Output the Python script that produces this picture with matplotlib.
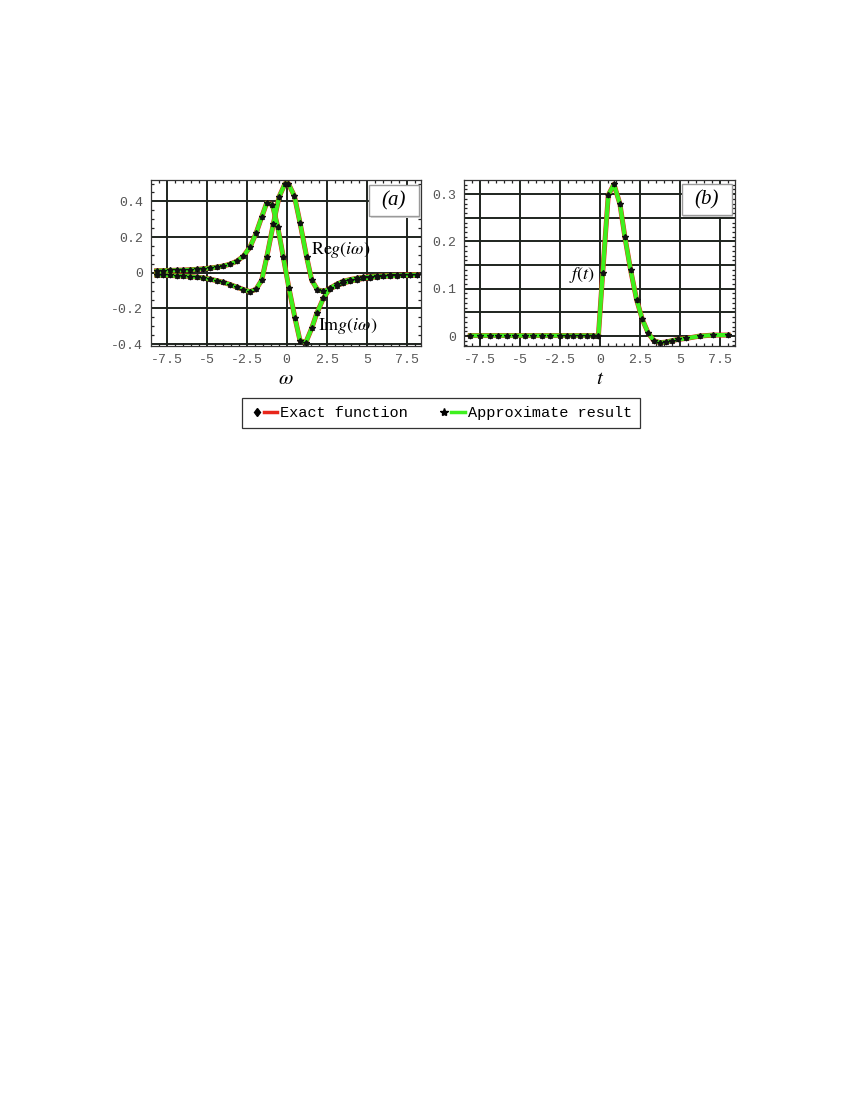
import matplotlib
matplotlib.use("Agg")
import matplotlib.pyplot as plt
from matplotlib.lines import Line2D
from matplotlib.patches import Rectangle
from matplotlib.legend_handler import HandlerTuple
from matplotlib.ticker import MultipleLocator

plt.rcParams['mathtext.fontset'] = 'stix'

# panel (a): real part of g(iw)
omega_re = [-8.13, -7.71, -7.29, -6.88, -6.46, -6.04, -5.63, -5.21, -4.79, -4.38, -3.96,
            -3.54, -3.13, -2.71, -2.29, -1.92, -1.56, -1.25, -0.84, -0.48, -0.1,
            0.1, 0.48, 0.84, 1.25, 1.56, 1.92, 2.29, 2.71, 3.13, 3.54, 3.96, 4.38,
            4.79, 5.21, 5.63, 6.04, 6.46, 6.88, 7.29, 7.71, 8.13]
re_g = [-0.013, -0.014, -0.015, -0.017, -0.018, -0.021, -0.024, -0.029, -0.036, -0.044, -0.054,
        -0.066, -0.080, -0.094, -0.106, -0.093, -0.041, 0.086, 0.272, 0.425, 0.500,
        0.500, 0.430, 0.276, 0.086, -0.041, -0.095, -0.104, -0.090, -0.072, -0.058, -0.047, -0.039,
        -0.032, -0.027, -0.023, -0.020, -0.018, -0.016, -0.015, -0.014, -0.013]

# panel (a): imaginary part of g(iw)
omega_im = [-8.13, -7.71, -7.29, -6.88, -6.46, -6.04, -5.63, -5.21, -4.79, -4.38, -3.96,
            -3.54, -3.13, -2.71, -2.29, -1.92, -1.56, -1.25, -0.9, -0.56, -0.21,
            0.14, 0.52, 0.83, 1.19, 1.56, 1.88, 2.29, 2.7, 3.13, 3.54, 3.96, 4.38,
            4.79, 5.21, 5.63, 6.04, 6.46, 6.88, 7.29, 7.71, 8.13]
im_g = [0.011, 0.012, 0.013, 0.014, 0.015, 0.017, 0.019, 0.022, 0.026, 0.031, 0.038,
        0.048, 0.064, 0.092, 0.145, 0.220, 0.313, 0.391, 0.382, 0.257, 0.086,
        -0.087, -0.255, -0.380, -0.391, -0.311, -0.227, -0.143, -0.087, -0.064, -0.048, -0.038, -0.031,
        -0.026, -0.022, -0.019, -0.017, -0.015, -0.014, -0.013, -0.012, -0.011]

# panel (b): f(t)
t_pts = [-8.1, -7.5, -6.9, -6.35, -5.8, -5.3, -4.7, -4.2, -3.6, -3.1, -2.5, -2.08,
         -1.67, -1.25, -0.83, -0.42, -0.1, 0.17, 0.52, 0.875, 1.25, 1.56, 1.92,
         2.29, 2.65, 3.02, 3.375, 3.75, 4.125, 4.48, 4.9, 5.4, 6.25, 7.08, 8.02]
f_t = [0.001, 0.001, 0.001, 0.001, 0.001, 0.001, 0.001, 0.001, 0.001, 0.001, 0.001, 0.001,
       0.001, 0.001, 0.001, 0.001, -0.001, 0.133, 0.298, 0.321, 0.279, 0.209, 0.139,
       0.077, 0.035, 0.006, -0.010, -0.014, -0.013, -0.010, -0.007, -0.005, 0.000, 0.002, 0.002]

xticks = [-7.5, -5, -2.5, 0, 2.5, 5, 7.5]
xtick_labels = ['-7.5', '-5', '-2.5', '0', '2.5', '5', '7.5']
a_yticks = [-0.4, -0.2, 0, 0.2, 0.4]
a_ylabels = ['-0.4', '-0.2', '0', '0.2', '0.4']
b_yticks = [0, 0.05, 0.1, 0.15, 0.2, 0.25, 0.3]
b_ylabels = ['0', '', '0.1', '', '0.2', '', '0.3']

mono = 'Liberation Mono'
serif = 'Liberation Serif'
grid_col = '#1e241e'


def style_axes(ax, yticks, ylabels, yminor):
    ax.set_xticks(xticks)
    ax.set_xticklabels(xtick_labels, family=mono, fontsize=9.5, color='#555555')
    ax.set_yticks(yticks)
    ax.set_yticklabels(ylabels, family=mono, fontsize=9.5, color='#555555')
    ax.xaxis.set_minor_locator(MultipleLocator(0.5))
    ax.yaxis.set_minor_locator(MultipleLocator(yminor))
    ax.tick_params(which='both', direction='in', top=True, right=True)
    ax.tick_params(which='major', length=0, pad=6)
    ax.tick_params(which='minor', length=2.5, width=0.9, color='#222222')
    ax.grid(True, which='major', color=grid_col, lw=1.4)
    ax.set_axisbelow(True)
    for sp in ax.spines.values():
        sp.set_linewidth(0.9)
        sp.set_color('#333333')


def draw_curve(ax, x, y):
    ax.plot(x, y, color='#e8261a', lw=3.6, zorder=3)
    ax.plot(x, y, color='#3ef01e', lw=3.0, zorder=4)
    ax.plot(x, y, ls='none', marker='d', ms=2.5, color='black', zorder=5)
    ax.plot(x, y, ls='none', marker='*', ms=4.2, color='#111111', zorder=6)


def label_box(ax, x0, y0, x1, y1, txt):
    ax.add_patch(Rectangle((x0 + 0.006, y0 - 0.012), x1 - x0, y1 - y0, transform=ax.transAxes,
                           fc='#d8d8d8', ec='none', zorder=7))
    ax.add_patch(Rectangle((x0, y0), x1 - x0, y1 - y0, transform=ax.transAxes,
                           fc='white', ec='#9a9a9a', lw=1.0, zorder=8))
    ax.text((x0 + x1) / 2, (y0 + y1) / 2, txt, transform=ax.transAxes, ha='center',
            va='center', fontsize=15, family=serif, style='italic', zorder=9)


fig = plt.figure(figsize=(8.5, 11), dpi=100)

ax1 = fig.add_axes([0.1782, 0.6855, 0.3171, 0.1506])
draw_curve(ax1, omega_re, re_g)
draw_curve(ax1, omega_im, im_g)
ax1.set_xlim(-8.45, 8.39)
ax1.set_ylim(-0.41, 0.518)
style_axes(ax1, a_yticks, a_ylabels, 0.05)
ax1.set_xlabel(r'$\omega$', fontsize=15, labelpad=1)
ax1.text(3.4, 0.127, r'$\mathrm{Re}g(i\omega)$', fontsize=13, ha='center', va='center', zorder=9)
ax1.text(3.8, -0.298, r'$\mathrm{Im}g(i\omega)$', fontsize=13, ha='center', va='center', zorder=9)
label_box(ax1, 0.807, 0.785, 0.9926, 0.972, '(a)')

ax2 = fig.add_axes([0.5462, 0.6855, 0.3185, 0.1506])
draw_curve(ax2, t_pts, f_t)
ax2.set_xlim(-8.48, 8.44)
ax2.set_ylim(-0.021, 0.3294)
style_axes(ax2, b_yticks, b_ylabels, 0.01)
ax2.set_xlabel(r'$t$', fontsize=15, labelpad=1)
ax2.text(-1.12, 0.13, r'$f(t)$', fontsize=13, ha='center', va='center', zorder=9)
label_box(ax2, 0.803, 0.791, 0.988, 0.978, '(b)')

# legend
h_exact = (Line2D([], [], ls='none', marker='d', ms=4.5, color='black'),
           Line2D([], [], color='#e8261a', lw=2.5))
h_appr = (Line2D([], [], ls='none', marker='*', ms=6, color='black'),
          Line2D([], [], color='#3ef01e', lw=2.5))
leg = fig.legend([h_exact, h_appr], ['Exact function', 'Approximate result'],
                 handler_map={tuple: HandlerTuple(ndivide=None, pad=0)},
                 loc='center', bbox_to_anchor=(441 / 850, 1 - 413 / 1100), ncol=2,
                 prop={'family': mono, 'size': 11}, frameon=True, fancybox=False,
                 handlelength=1.8, handletextpad=0.2, columnspacing=1.9, borderpad=0.5)
leg.get_frame().set_edgecolor('black')
leg.get_frame().set_linewidth(0.9)

fig.savefig('out.png', dpi=100)
